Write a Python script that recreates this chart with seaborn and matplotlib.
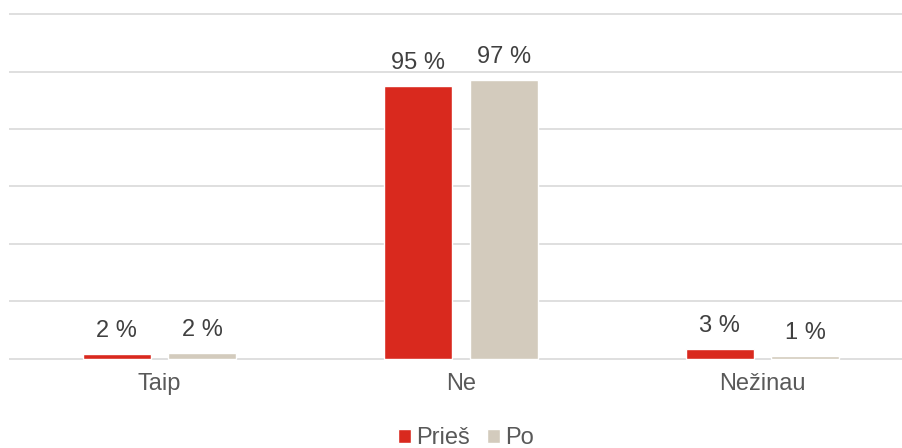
import matplotlib
matplotlib.use("Agg")
import matplotlib.pyplot as plt
import seaborn as sns
import pandas as pd

categories = ["Taip", "Ne", "Nežinau"]
series_names = ["Prieš", "Po"]
pries_values = [1.6, 95.0, 3.4]
po_values = [2.0, 97.1, 0.9]
colors = ["#D9291E", "#D3CBBD"]

rows = []
for c, v in zip(categories, pries_values):
    rows.append({"cat": c, "series": series_names[0], "value": v})
for c, v in zip(categories, po_values):
    rows.append({"cat": c, "series": series_names[1], "value": v})
df = pd.DataFrame(rows)

sns.set_theme(style="white")
plt.rcParams["font.family"] = ["Liberation Sans", "DejaVu Sans"]

fig = plt.figure(figsize=(9.02, 4.48), dpi=100)
ax = fig.add_axes([9 / 902, 0.1929, 1 - 9 / 902, 0.7817])

sns.barplot(data=df, x="cat", y="value", hue="series", order=categories,
            hue_order=series_names, palette=colors, width=0.567, gap=0.2046,
            saturation=1, ax=ax, legend=True)

ax.set_xlim(-0.499, 2.463)
ax.set_ylim(-1, 121)
ax.set_yticks(range(0, 121, 20))
ax.yaxis.grid(True, color="#D9D9D9", linewidth=1.2)
ax.set_axisbelow(True)
ax.set_yticklabels([])
ax.tick_params(axis="y", length=0)
ax.tick_params(axis="x", length=0, pad=8, labelsize=17, labelcolor="#595959")
ax.set_xlabel("")
ax.set_ylabel("")
for s in ax.spines.values():
    s.set_visible(False)

for cont in ax.containers:
    for bar in cont:
        h = bar.get_height()
        ax.annotate(f"{h:.0f} %", (bar.get_x() + bar.get_width() / 2, h),
                    xytext=(0, 12), textcoords="offset points",
                    ha="center", va="baseline", fontsize=17, color="#404040")

handles, labels = ax.get_legend_handles_labels()
ax.get_legend().remove()
fig.legend(handles, labels, loc="center", bbox_to_anchor=(466 / 902, 0.0223),
           ncol=2, frameon=False, fontsize=17, labelcolor="#595959",
           handlelength=0.55, handleheight=0.55, handletextpad=0.24,
           columnspacing=0.7, borderpad=0, borderaxespad=0)

fig.savefig("out.png", dpi=100)
